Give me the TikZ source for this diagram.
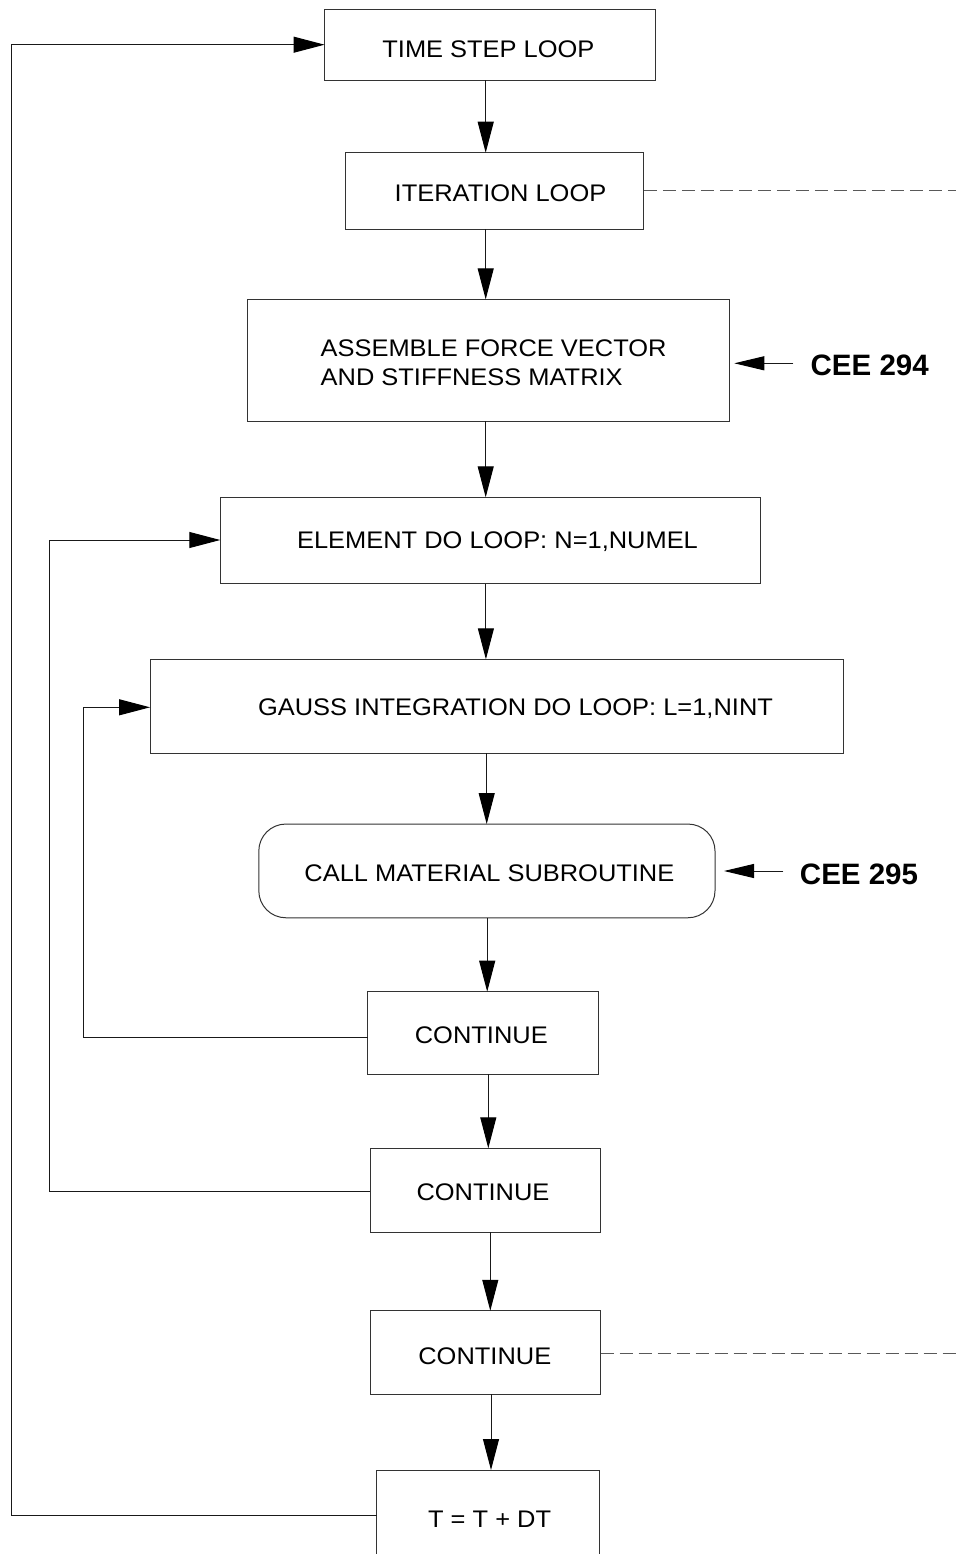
\documentclass[tikz,border=0pt]{standalone}
\usepackage{fontspec}
\setmainfont{Liberation Sans}[FakeStretch=1.06]
\newfontfamily\ceefont{Liberation Sans}
\usetikzlibrary{arrows.meta}
\begin{document}
\begin{tikzpicture}[x=1pt,y=-1pt,
  box/.style={draw=black!80,line width=1pt,inner sep=0pt,outer sep=0pt},
  rbox/.style={box,rounded corners=27pt},
  txt/.style={inner sep=0pt,outer sep=0pt,font=\fontsize{24}{29}\selectfont},
  cee/.style={inner sep=0pt,outer sep=0pt,font=\ceefont\fontsize{29.5}{35}\selectfont\bfseries},
  ln/.style={draw=black!90,line width=1pt},
  arr/.style={ln,-{Triangle[length=31pt,width=16pt,fill=black,color=black]}},
  dsh/.style={draw=black!65,line width=1.2pt,dash pattern=on 13pt off 6pt}]
\useasboundingbox (0,0) rectangle (956,1554);
\clip (0,0) rectangle (956,1554);
\fill[white] (0,0) rectangle (956,1554);

% boxes
\node[box,minimum width=330.5pt,minimum height=70.7pt] (b1) at (489.8,44.7) {};
\node[box,minimum width=298.7pt,minimum height=76.3pt] (b2) at (494.4,190.9) {};
\node[box,minimum width=481.8pt,minimum height=121.7pt] (b3) at (488.4,360.2) {};
\node[box,minimum width=540.7pt,minimum height=86.4pt] (b4) at (490.6,540.5) {};
\node[box,minimum width=693.7pt,minimum height=94pt] (b5) at (496.9,706.3) {};
\node[rbox,minimum width=456.2pt,minimum height=93.7pt] (b6) at (486.9,870.9) {};
\node[box,minimum width=230.8pt,minimum height=82.6pt] (b7) at (482.9,1033) {};
\node[box,minimum width=229.7pt,minimum height=84pt] (b8) at (485.2,1190.3) {};
\node[box,minimum width=230.6pt,minimum height=83.3pt] (b9) at (485.3,1352.4) {};
\node[box,minimum width=222.6pt,minimum height=140pt] (b10) at (488.1,1540) {};

% texts
\node[txt] (t1) at (488.4,49.5) {TIME STEP LOOP};
\node[txt] (t2) at (500.5,193.3) {ITERATION LOOP};
\node[txt,align=left] (t3) at (493.6,362.5) {ASSEMBLE FORCE VECTOR\\AND STIFFNESS MATRIX};
\node[txt] (t4) at (497.5,541.7) {ELEMENT DO LOOP: N=1,NUMEL};
\node[txt] (t5) at (515.5,708.3) {GAUSS INTEGRATION DO LOOP: L=1,NINT};
\node[txt] (t6) at (489.4,873.3) {CALL MATERIAL SUBROUTINE};
\node[txt] (t7) at (481.3,1035.5) {CONTINUE};
\node[txt] (t8) at (483,1192.5) {CONTINUE};
\node[txt] (t9) at (484.8,1356) {CONTINUE};
\node[txt] (t10) at (489.6,1519) {T = T + DT};
\node[cee] (c294) at (869.7,365.3) {CEE 294};
\node[cee] (c295) at (859,874.5) {CEE 295};

% main flow arrows
\draw[arr] (b1.south -| 485.7,0) -- (b2.north -| 485.7,0);
\draw[arr] (b2.south -| 485.7,0) -- (b3.north -| 485.7,0);
\draw[arr] (b3.south -| 485.7,0) -- (b4.north -| 485.7,0);
\draw[arr] (b4.south -| 485.9,0) -- (b5.north -| 485.9,0);
\draw[arr] (b5.south -| 486.7,0) -- (b6.north -| 486.7,0);
\draw[arr] (b6.south -| 487.2,0) -- (b7.north -| 487.2,0);
\draw[arr] (b7.south -| 488.3,0) -- (b8.north -| 488.3,0);
\draw[arr] (b8.south -| 490.3,0) -- (b9.north -| 490.3,0);
\draw[arr] (b9.south -| 491,0) -- (b10.north -| 491,0);

% feedback loops
\draw[arr] (b10.west |- 0,1515) -- (11,1515) -- (11,44.7) -- (b1.west);
\draw[arr] (b8.west |- 0,1191.7) -- (49,1191.7) -- (49,540) -- (b4.west |- 0,540);
\draw[arr] (b7.west |- 0,1037.3) -- (83.3,1037.3) -- (83.3,707.3) -- (b5.west |- 0,707.3);

% dashed exits
\draw[dsh] (b2.east |- 0,190.7) -- (956,190.7);
\draw[dsh] (b9.east |- 0,1353.3) -- (956,1353.3);

% CEE pointers
\coordinate (p294) at (793.3,363.3);
\coordinate (p295) at (783.3,871);
\draw[ln,shorten >=5pt,-{Triangle[length=30pt,width=14pt,fill=black,color=black]}] (p294) -- (b3.east |- p294);
\draw[ln,shorten >=9pt,-{Triangle[length=30pt,width=14pt,fill=black,color=black]}] (p295) -- (b6.east |- p295);
\end{tikzpicture}
\end{document}
